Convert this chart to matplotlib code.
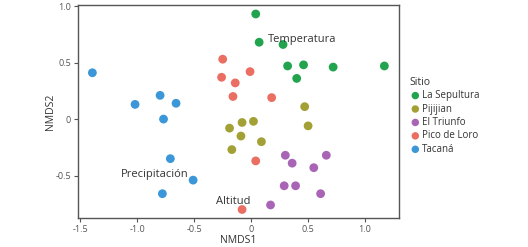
import matplotlib.pyplot as plt

# NMDS scores per site
sites = ['La Sepultura', 'Pijijian', 'El Triunfo', 'Pico de Loro', 'Tacaná']
site_colors = ['#21A44D', '#A3A136', '#A965B5', '#EB6E63', '#3B97D8']

sep_x = [0.04, 0.07, 0.28, 0.32, 0.46, 0.40, 0.72, 1.17]
sep_y = [0.93, 0.68, 0.66, 0.47, 0.48, 0.36, 0.46, 0.47]

pij_x = [0.47, 0.50, -0.08, 0.02, -0.19, -0.09, 0.09, -0.17]
pij_y = [0.11, -0.06, -0.03, -0.02, -0.08, -0.15, -0.20, -0.27]

tri_x = [0.30, 0.66, 0.36, 0.55, 0.29, 0.39, 0.61, 0.17]
tri_y = [-0.32, -0.32, -0.39, -0.43, -0.59, -0.59, -0.66, -0.76]

pic_x = [-0.25, -0.26, -0.01, -0.14, -0.16, 0.18, 0.04, -0.08]
pic_y = [0.53, 0.37, 0.42, 0.32, 0.20, 0.19, -0.37, -0.80]

tac_x = [-1.395, -1.02, -0.80, -0.66, -0.77, -0.71, -0.78, -0.51]
tac_y = [0.41, 0.13, 0.21, 0.14, 0.00, -0.35, -0.66, -0.54]

xs = [sep_x, pij_x, tri_x, pic_x, tac_x]
ys = [sep_y, pij_y, tri_y, pic_y, tac_y]

# environmental variable labels
env_labels = ['Temperatura', 'Precipitación', 'Altitud']
env_x = [0.45, -0.85, -0.16]
env_y = [0.70, -0.49, -0.73]

plt.rcParams['font.family'] = ['Open Sans', 'DejaVu Sans']

fig = plt.figure(figsize=(5.28, 2.47), dpi=100)
ax = fig.add_axes([0.148, 0.117, 0.608, 0.863])

for name, col, x, y in zip(sites, site_colors, xs, ys):
    ax.scatter(x, y, s=40, color=col, edgecolors='none', label=name, zorder=3)

for lab, x, y in zip(env_labels, env_x, env_y):
    ax.text(x, y, lab, ha='center', va='center', fontsize=8, color='#333333', zorder=4)

ax.set_xlim(-1.52, 1.30)
ax.set_ylim(-0.876, 1.01)
ax.set_xticks([-1.5, -1.0, -0.5, 0, 0.5, 1.0])
ax.set_xticklabels(['-1.5', '-1.0', '-0.5', '0', '0.5', '1.0'])
ax.set_yticks([-0.5, 0, 0.5, 1.0])
ax.set_yticklabels(['-0.5', '0', '0.5', '1.0'])
ax.tick_params(labelsize=6.5, colors='#555555', length=3, width=0.8, pad=2)
for sp in ax.spines.values():
    sp.set_color('#555555')
    sp.set_linewidth(1.0)
ax.set_xlabel('NMDS1', fontsize=7.5, color='#333333', labelpad=1)
ax.set_ylabel('NMDS2', fontsize=7.5, color='#333333', labelpad=0)

leg = ax.legend(title='Sitio', loc='center left', bbox_to_anchor=(1.02, 0.48),
                frameon=False, fontsize=7, title_fontsize=7.5,
                handletextpad=0.1, labelspacing=0.25, borderaxespad=0,
                handlelength=1.2, markerscale=0.85)
leg._legend_box.align = 'left'
for t in leg.get_texts():
    t.set_color('#333333')
leg.get_title().set_color('#333333')

plt.savefig('out.png', dpi=100, facecolor='white')
